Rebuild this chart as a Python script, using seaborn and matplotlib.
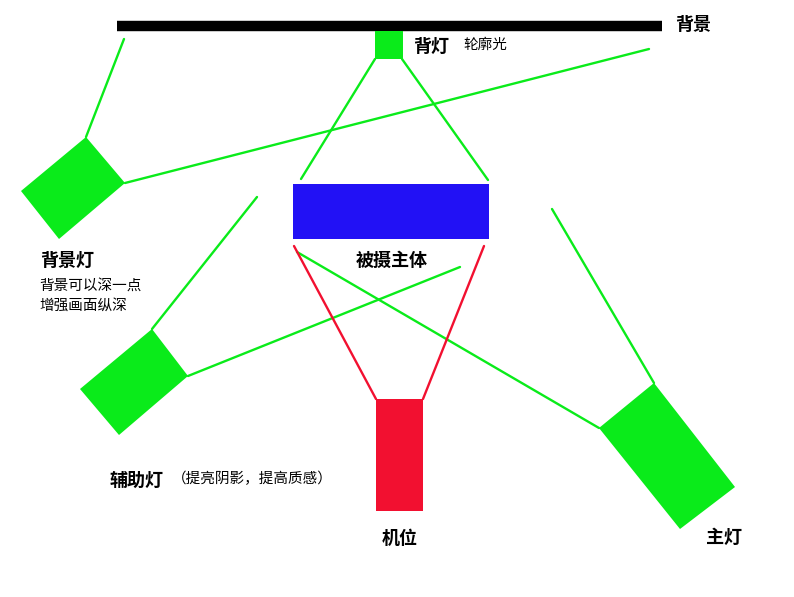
import numpy as np
import pandas as pd
import matplotlib
matplotlib.use("Agg")
import matplotlib.pyplot as plt
from matplotlib.patches import Polygon
import seaborn as sns

sns.set_theme(style="white")
plt.rcParams['font.family'] = ['Noto Sans CJK SC', 'DejaVu Sans']

# ---- diagram data (pixel coordinates, y downwards) ----
GREEN = "#0aeb1a"
BLUE = "#2211f5"
RED = "#f21030"

backdrop_x = [117, 662]
backdrop_y = [26, 26]

# filled shapes: name -> corner lists
rim_light_x = [375, 403, 403, 375]
rim_light_y = [31, 31, 59, 59]
bg_light_x = [21, 86, 125, 59]
bg_light_y = [191, 137, 183, 239]
fill_light_x = [80, 152, 188, 119]
fill_light_y = [389, 329, 376, 435]
key_light_x = [599, 654, 735, 680]
key_light_y = [428, 383, 487, 529]
subject_x = [293, 489, 489, 293]
subject_y = [184, 184, 239, 239]
camera_x = [376, 423, 423, 376]
camera_y = [399, 399, 511, 511]

# light beams (segments)
seg_id = [0, 0, 1, 1, 2, 2, 3, 3, 4, 4, 5, 5, 6, 6, 7, 7]
seg_x = [375, 301, 402, 488, 86, 124, 125, 649, 152, 257, 188, 460, 654, 552, 599, 297]
seg_y = [59, 179, 59, 180, 137, 39, 183, 49, 329, 197, 376, 267, 383, 209, 428, 252]

# camera view lines
cam_id = [0, 0, 1, 1]
cam_x = [376, 294, 423, 484]
cam_y = [399, 246, 399, 246]

# labels
bold_labels = ["背景", "背灯", "被摄主体", "背景灯", "辅助灯", "机位", "主灯"]
bold_x = [675, 413, 356, 40, 110, 382, 706]
bold_y = [25, 46, 260, 260, 480, 539, 537]
note_labels = ["轮廓光", "背景可以深一点", "增强画面纵深", "（提亮阴影，提高质感）"]
note_x = [463, 39, 39, 172]
note_y = [45, 286, 306, 479]

fig = plt.figure(figsize=(7.94, 5.97), dpi=100)
ax = fig.add_axes([0, 0, 1, 1])
ax.set_xlim(0, 794)
ax.set_ylim(597, 0)
ax.axis("off")

# backdrop
ax.plot(backdrop_x, backdrop_y, color="black", lw=7.5, solid_capstyle="butt")

beams = pd.DataFrame({"id": seg_id, "x": seg_x, "y": seg_y})
sns.lineplot(data=beams, x="x", y="y", units="id", estimator=None, sort=False,
             color=GREEN, lw=1.7, ax=ax, legend=False)
cams = pd.DataFrame({"id": cam_id, "x": cam_x, "y": cam_y})
sns.lineplot(data=cams, x="x", y="y", units="id", estimator=None, sort=False,
             color=RED, lw=1.7, ax=ax, legend=False)

for xs, ys, c in [(rim_light_x, rim_light_y, GREEN), (bg_light_x, bg_light_y, GREEN),
                  (fill_light_x, fill_light_y, GREEN), (key_light_x, key_light_y, GREEN),
                  (subject_x, subject_y, BLUE), (camera_x, camera_y, RED)]:
    ax.add_patch(Polygon(np.column_stack([xs, ys]), closed=True, facecolor=c,
                         edgecolor="none", zorder=3))

for t, x, y in zip(bold_labels, bold_x, bold_y):
    ax.text(x, y, t, fontsize=13, fontweight="bold", ha="left", va="center",
            color="black")
for t, x, y in zip(note_labels, note_x, note_y):
    ax.text(x, y, t, fontsize=10.5, ha="left", va="center", color="black")

ax.set_xlabel("")
ax.set_ylabel("")
fig.savefig("out.png", dpi=100, facecolor="white")
